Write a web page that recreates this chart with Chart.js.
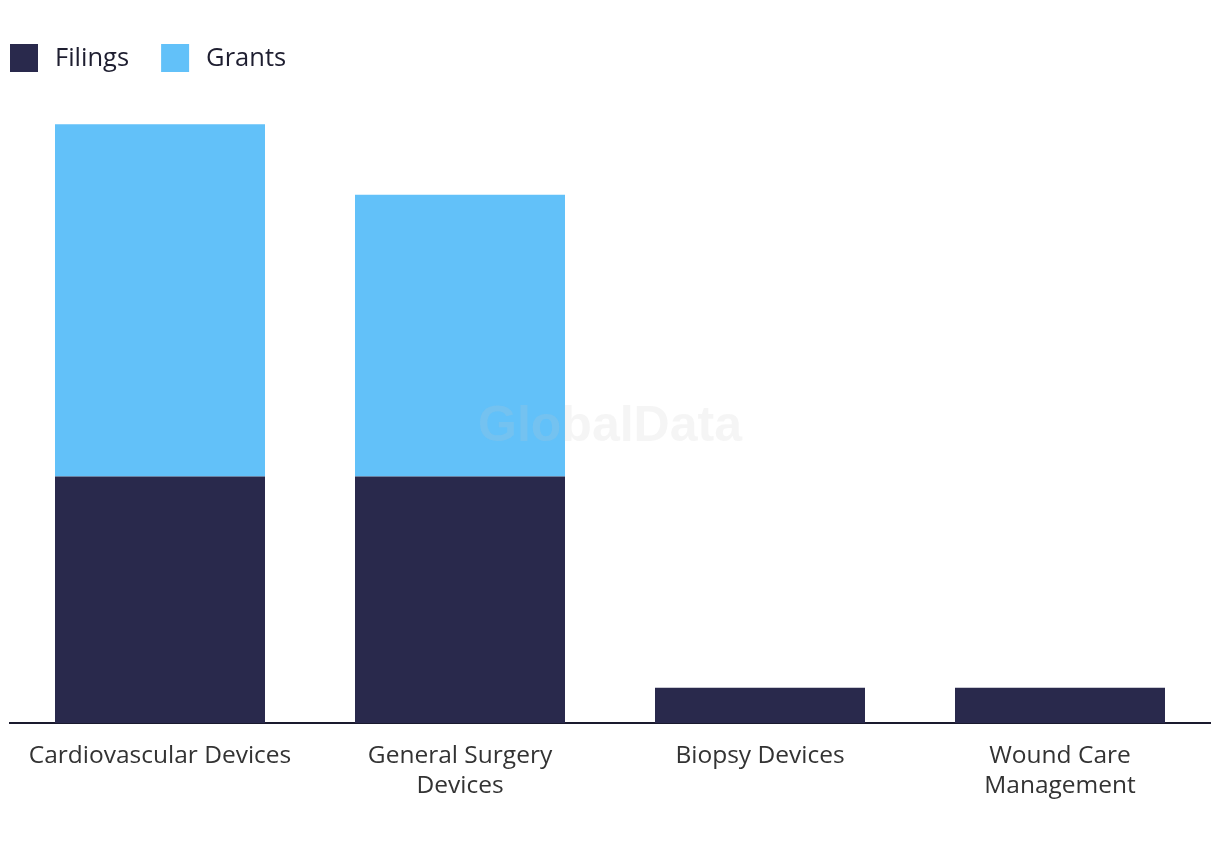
<!DOCTYPE html>
<html>
<head>
<meta charset="utf-8">
<script src="https://cdn.jsdelivr.net/npm/chart.js@4/dist/chart.umd.min.js"></script>
<style>
html,body{margin:0;padding:0;background:#fff;}
#wrap{width:1220px;height:850px;position:relative;}
</style>
</head>
<body>
<div id="wrap"><canvas id="c" width="1220" height="850"></canvas></div>
<script>
const categories = [["Cardiovascular Devices"], ["General Surgery", "Devices"], ["Biopsy Devices"], ["Wound Care", "Management"]];
const filings = [7, 7, 1, 1];
const grants = [10, 8, 0, 0];
const seriesNames = ["Filings", "Grants"];
const seriesColors = ["#29294c", "#62c1f9"];

const FONT = "'Open Sans', Roboto, sans-serif";

const customLegend = {
  id: 'customLegend',
  afterDraw(chart) {
    const ctx = chart.ctx;
    ctx.save();
    ctx.font = "25.5px " + FONT;
    ctx.textBaseline = "middle";
    ctx.textAlign = "left";
    let x = 10;
    chart.data.datasets.forEach((ds) => {
      ctx.fillStyle = ds.backgroundColor;
      ctx.fillRect(x, 44, 28, 28);
      ctx.fillStyle = "#1e1e30";
      ctx.fillText(ds.label, x + 45, 59);
      x += 45 + ctx.measureText(ds.label).width + 32;
    });
    ctx.restore();
  }
};

const watermark = {
  id: 'watermark',
  afterDatasetsDraw(chart) {
    const ctx = chart.ctx;
    ctx.save();
    ctx.font = "bold 50px 'Liberation Sans', Arial, sans-serif";
    ctx.fillStyle = "rgba(200,200,200,0.18)";
    ctx.textAlign = "center";
    ctx.textBaseline = "middle";
    ctx.fillText("GlobalData", 610, 427);
    ctx.restore();
  }
};

new Chart(document.getElementById('c'), {
  type: 'bar',
  data: {
    labels: categories,
    datasets: [
      { label: seriesNames[0], data: filings, backgroundColor: seriesColors[0], borderWidth: 0 },
      { label: seriesNames[1], data: grants, backgroundColor: seriesColors[1], borderWidth: 0 }
    ]
  },
  options: {
    responsive: false,
    animation: false,
    layout: { padding: { left: 10, right: 10, top: 89, bottom: 0 } },
    datasets: { bar: { categoryPercentage: 1, barPercentage: 0.7 } },
    plugins: {
      legend: { display: false },
      tooltip: { enabled: false }
    },
    scales: {
      x: {
        stacked: true,
        grid: { display: false, drawTicks: false },
        border: { display: true, color: '#1a1a2e', width: 2 },
        ticks: { color: '#333', font: { family: FONT, size: 24.5, lineHeight: '30px' }, padding: 18, maxRotation: 0, autoSkip: false },
        afterFit(scale) { scale.height = 127; }
      },
      y: {
        stacked: true,
        display: false,
        min: 0,
        max: 18
      }
    }
  },
  plugins: [watermark, customLegend]
});
</script>
</body>
</html>
